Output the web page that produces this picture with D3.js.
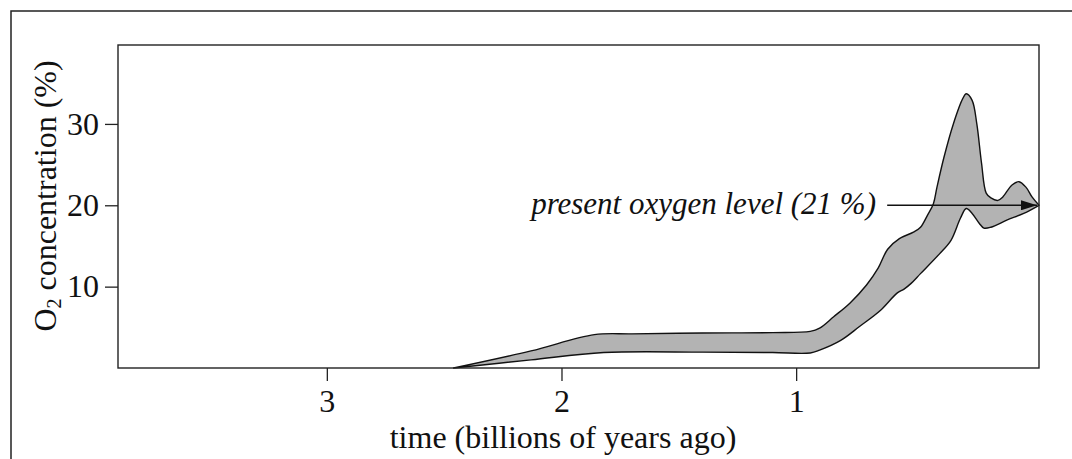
<!DOCTYPE html>
<html>
<head>
<meta charset="utf-8">
<script src="https://cdn.jsdelivr.net/npm/d3@7"></script>
<style>
  html, body { margin: 0; padding: 0; background: #fff; }
  svg { display: block; }
  text { font-family: "Liberation Serif", "Times New Roman", serif; fill: #111; }
</style>
</head>
<body>
<svg id="chart" width="1072" height="459"></svg>
<script>
// ---- data (time in billions of years ago, O2 in %) ----
const xTicks = [3, 2, 1];
const yTicks = [10, 20, 30];
const xDomain = [3.89, -0.035];
const yDomain = [0, 39.7];

const upperTime = [2.46, 2.13, 1.86, 1.70, 1.40, 1.10, 0.94, 0.90, 0.84, 0.77, 0.70, 0.65, 0.61, 0.56, 0.50, 0.47, 0.44, 0.415, 0.40, 0.37, 0.33, 0.29, 0.275, 0.25, 0.23, 0.21, 0.19, 0.17, 0.14, 0.12, 0.08, 0.05, 0.02, -0.006, -0.035];
const upperO2   = [0,    2.1,  4.1,  4.2,  4.3,  4.35, 4.5,  4.9,  6.3,  8.0,  10.2, 12.3, 14.6, 15.9, 16.7, 17.3, 18.8, 20.2,  22.2, 25.9, 30.0, 33.1, 33.7,  32.9, 30.0, 25.2, 21.5, 20.9, 20.6, 21.0, 22.5, 22.9, 22.2, 21.0,   20.0];

const lowerTime = [2.46, 2.13, 1.82, 1.40, 1.10, 0.94, 0.90, 0.81, 0.73, 0.64, 0.57, 0.54, 0.51, 0.47, 0.39, 0.34, 0.30, 0.275, 0.25, 0.22, 0.20, 0.17, 0.10, 0.03, -0.035];
const lowerO2   = [0,    1.0,  1.9,  1.95, 1.9,  1.85, 2.2,  3.4,  5.1,  7.1,  9.2,  9.7,  10.4, 11.6, 14.0, 15.7, 18.4, 19.6,  19.0, 17.8, 17.2, 17.3, 18.2, 19.0, 20.0];

const annotationText = "present oxygen level (21 %)";
const arrowFrom = 0.612, arrowTo = -0.035, arrowLevel = 20;

// ---- layout ----
const svg = d3.select("#chart");
const L = 118, R = 1039, T = 45, B = 368;
const x = d3.scaleLinear().domain(xDomain).range([L, R]);
const y = d3.scaleLinear().domain(yDomain).range([B, T]);

// outer frame (top and left lines)
svg.append("path")
  .attr("d", "M11,459 L11,11 L1072,11")
  .attr("fill", "none").attr("stroke", "#222").attr("stroke-width", 1.5);

// band
const line = d3.line().x(d => x(d[0])).y(d => y(d[1])).curve(d3.curveCatmullRom.alpha(0.5));
const up = upperTime.map((t, i) => [t, upperO2[i]]);
const lo = lowerTime.map((t, i) => [t, lowerO2[i]]).reverse();
const upPath = line(up);
const loPath = line(lo).replace(/^M/, "L");
svg.append("path")
  .attr("d", upPath + loPath + "Z")
  .attr("fill", "#b3b3b3")
  .attr("stroke", "#111")
  .attr("stroke-width", 1.4)
  .attr("stroke-linejoin", "round");

// plot frame
svg.append("rect")
  .attr("x", L).attr("y", T).attr("width", R - L).attr("height", B - T)
  .attr("fill", "none").attr("stroke", "#222").attr("stroke-width", 1.4);

// axes
const xAxis = svg.append("g").attr("transform", `translate(0,${B})`)
  .call(d3.axisBottom(x).tickValues(xTicks).tickSize(13).tickFormat(d3.format("d")));
xAxis.select(".domain").remove();
xAxis.selectAll(".tick line").attr("stroke", "#222").attr("stroke-width", 1.3);
xAxis.selectAll(".tick text").attr("y", 44).attr("dy", 0)
  .attr("font-size", 32).attr("font-family", "Liberation Serif").attr("fill", "#111");

const yAxis = svg.append("g").attr("transform", `translate(${L},0)`)
  .call(d3.axisLeft(y).tickValues(yTicks).tickSize(13).tickPadding(6).tickFormat(d3.format("d")));
yAxis.select(".domain").remove();
yAxis.selectAll(".tick line").attr("stroke", "#222").attr("stroke-width", 1.3);
yAxis.selectAll(".tick text").attr("font-size", 32).attr("font-family", "Liberation Serif").attr("fill", "#111");

// axis titles
svg.append("text")
  .attr("x", 563).attr("y", 448)
  .attr("text-anchor", "middle").attr("font-size", 32)
  .text("time (billions of years ago)");

const yl = svg.append("text")
  .attr("transform", "translate(56,196) rotate(-90)")
  .attr("text-anchor", "middle").attr("font-size", 32);
yl.append("tspan").text("O");
yl.append("tspan").attr("font-size", 20).attr("dy", 5).text("2");
yl.append("tspan").attr("dy", -5).text(" concentration (%)");

// annotation
svg.append("defs").append("marker")
  .attr("id", "arrowhead").attr("viewBox", "0 0 16 10")
  .attr("refX", 16).attr("refY", 5)
  .attr("markerWidth", 16).attr("markerHeight", 10)
  .attr("markerUnits", "userSpaceOnUse").attr("orient", "auto")
  .append("path").attr("d", "M0,0 L16,5 L0,10 Z").attr("fill", "#111");

svg.append("line")
  .attr("x1", x(arrowFrom)).attr("y1", y(arrowLevel))
  .attr("x2", x(arrowTo) - 2).attr("y2", y(arrowLevel))
  .attr("stroke", "#111").attr("stroke-width", 1.4)
  .attr("marker-end", "url(#arrowhead)");

svg.append("text")
  .attr("x", 876).attr("y", 214)
  .attr("text-anchor", "end").attr("font-size", 31).attr("font-style", "italic")
  .text(annotationText);
</script>
</body>
</html>
